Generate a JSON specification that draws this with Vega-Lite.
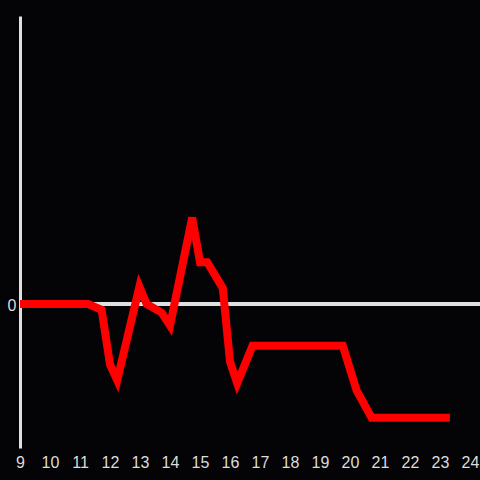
{
  "$schema": "https://vega.github.io/schema/vega-lite/v6.json",
  "width": 460,
  "height": 432,
  "autosize": {"type": "none"},
  "padding": {"left": 20, "top": 16, "right": 0, "bottom": 32},
  "background": "#040306",
  "config": {"view": {"stroke": null}, "font": "Liberation Sans"},
  "data": {"values": [
    {"x": 9.0, "v": 0},
    {"x": 11.27, "v": 0},
    {"x": 11.72, "v": -0.04},
    {"x": 12.0, "v": -0.42},
    {"x": 12.24, "v": -0.53},
    {"x": 12.98, "v": 0.12},
    {"x": 13.22, "v": 0.0},
    {"x": 13.72, "v": -0.06},
    {"x": 14.0, "v": -0.15},
    {"x": 14.74, "v": 0.60},
    {"x": 15.0, "v": 0.29},
    {"x": 15.24, "v": 0.29},
    {"x": 15.76, "v": 0.11},
    {"x": 16.0, "v": -0.40},
    {"x": 16.24, "v": -0.55},
    {"x": 16.75, "v": -0.29},
    {"x": 19.76, "v": -0.29},
    {"x": 20.22, "v": -0.60},
    {"x": 20.72, "v": -0.79},
    {"x": 23.33, "v": -0.79}
  ]},
  "layer": [
    {
      "mark": {"type": "rule", "color": "#e0e0e0", "strokeWidth": 3},
      "encoding": {"y": {"datum": 0, "type": "quantitative"}}
    },
    {
      "mark": {"type": "line", "color": "#ff0000", "strokeWidth": 8, "strokeCap": "butt", "strokeJoin": "miter"},
      "encoding": {
        "x": {"field": "x", "type": "quantitative", "scale": {"domain": [9, 24.3333], "nice": false, "zero": false},
          "axis": {"title": null, "domain": false, "ticks": false, "grid": false, "values": [9,10,11,12,13,14,15,16,17,18,19,20,21,22,23,24], "format": "d", "labelColor": "#dcdcdc", "labelFontSize": 16, "labelPadding": 6, "labelFlush": false, "labelOverlap": false}},
        "y": {"field": "v", "type": "quantitative", "scale": {"domain": [-1, 2], "nice": false},
          "axis": {"title": null, "domain": true, "domainColor": "#e0e0e0", "domainWidth": 3, "ticks": false, "grid": false, "values": [0], "format": "d", "labelColor": "#dcdcdc", "labelFontSize": 16, "labelPadding": 4, "labelOffset": 1}}
      }
    }
  ]
}
